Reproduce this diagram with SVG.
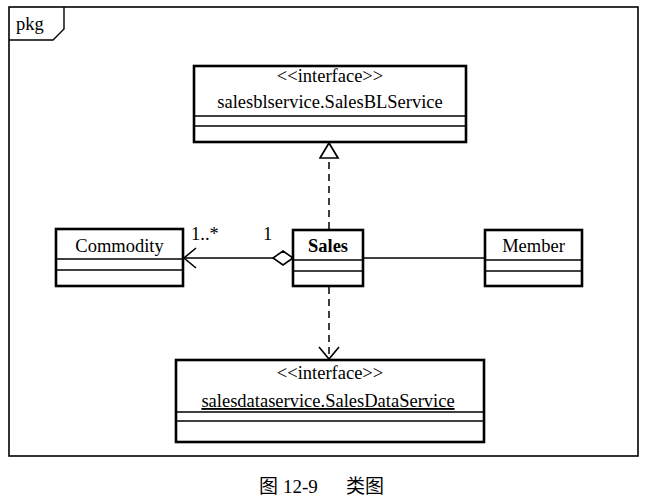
<svg xmlns="http://www.w3.org/2000/svg" width="647" height="504" viewBox="0 0 647 504">
<style>
.box{fill:#fff;stroke:#000;stroke-width:2.6}
.div{stroke:#000;stroke-width:1.3}
.t{font-family:"Liberation Serif","Times New Roman",serif;font-size:18.5px;fill:#000}
.b{font-weight:bold}
.c{stroke:#000;stroke-width:1.5;fill:none}
.d{stroke-dasharray:7,5}
.cap{font-family:"Liberation Serif","Noto Sans CJK SC",serif;font-size:19px;fill:#000}
</style>
<defs>
<marker id="tri" markerWidth="20" markerHeight="22" refX="16" refY="10" orient="auto" markerUnits="userSpaceOnUse">
<path d="M1,1 L16,10 L1,19 Z" fill="#fff" stroke="#000" stroke-width="1.7"/>
</marker>
<marker id="open" markerWidth="16" markerHeight="24" refX="13" refY="11" orient="auto" markerUnits="userSpaceOnUse">
<path d="M1,1 L13,11 L1,21" fill="none" stroke="#000" stroke-width="1.6"/>
</marker>
<marker id="dia" markerWidth="24" markerHeight="16" refX="1" refY="8" orient="auto" markerUnits="userSpaceOnUse">
<path d="M1,8 L11,1 L21,8 L11,15 Z" fill="#fff" stroke="#000" stroke-width="1.6"/>
</marker>
</defs>
<rect width="647" height="504" fill="#fff"/>
<g id="frame">
<rect x="9" y="7" width="629" height="449" fill="none" stroke="#000" stroke-width="1.6"/>
<path d="M9,40 L53,40 L64,29 L64,7" fill="none" stroke="#000" stroke-width="1.4"/>
<text class="t" x="16" y="30" font-size="17">pkg</text>
</g>
<g id="connectors">
<line class="c d" x1="329" y1="229" x2="329" y2="143" marker-end="url(#tri)"/>
<line class="c d" x1="329" y1="287" x2="329" y2="359" marker-end="url(#open)"/>
<line class="c" x1="293" y1="258" x2="184" y2="258" marker-start="url(#dia)" marker-end="url(#open)"/>
<line class="c" x1="363" y1="258" x2="485" y2="258"/>
<text class="t" x="191" y="240">1..*</text>
<text class="t" x="263" y="240">1</text>
</g>
<g id="salesbl">
<rect class="box" x="194" y="66" width="272" height="76"/>
<line class="div" x1="194" y1="116" x2="466" y2="116"/>
<line class="div" x1="194" y1="126" x2="466" y2="126"/>
<text class="t" x="330" y="82" text-anchor="middle">&lt;&lt;interface&gt;&gt;</text>
<text class="t" x="330" y="108" text-anchor="middle">salesblservice.SalesBLService</text>
</g>
<g id="commodity">
<rect class="box" x="56" y="229" width="127" height="57"/>
<line class="div" x1="56" y1="259" x2="183" y2="259"/>
<line class="div" x1="56" y1="270" x2="183" y2="270"/>
<text class="t" x="119.5" y="252" text-anchor="middle">Commodity</text>
</g>
<g id="sales">
<rect class="box" x="293" y="230" width="70" height="56"/>
<line class="div" x1="293" y1="260" x2="363" y2="260"/>
<line class="div" x1="293" y1="271" x2="363" y2="271"/>
<text class="t b" x="328" y="252" text-anchor="middle">Sales</text>
</g>
<g id="member">
<rect class="box" x="485" y="230" width="97" height="56"/>
<line class="div" x1="485" y1="260" x2="582" y2="260"/>
<line class="div" x1="485" y1="271" x2="582" y2="271"/>
<text class="t" x="533.5" y="252" text-anchor="middle">Member</text>
</g>
<g id="salesdata">
<rect class="box" x="176" y="360" width="308" height="82"/>
<line class="div" x1="176" y1="412" x2="484" y2="412"/>
<line class="div" x1="176" y1="421" x2="484" y2="421"/>
<text class="t" x="330" y="379" text-anchor="middle">&lt;&lt;interface&gt;&gt;</text>
<text class="t" x="328" y="407" text-anchor="middle" text-decoration="underline">salesdataservice.SalesDataService</text>
</g>
<text class="cap" y="493"><tspan x="259">图</tspan><tspan x="283">12-9</tspan><tspan x="346">类图</tspan></text>
</svg>
